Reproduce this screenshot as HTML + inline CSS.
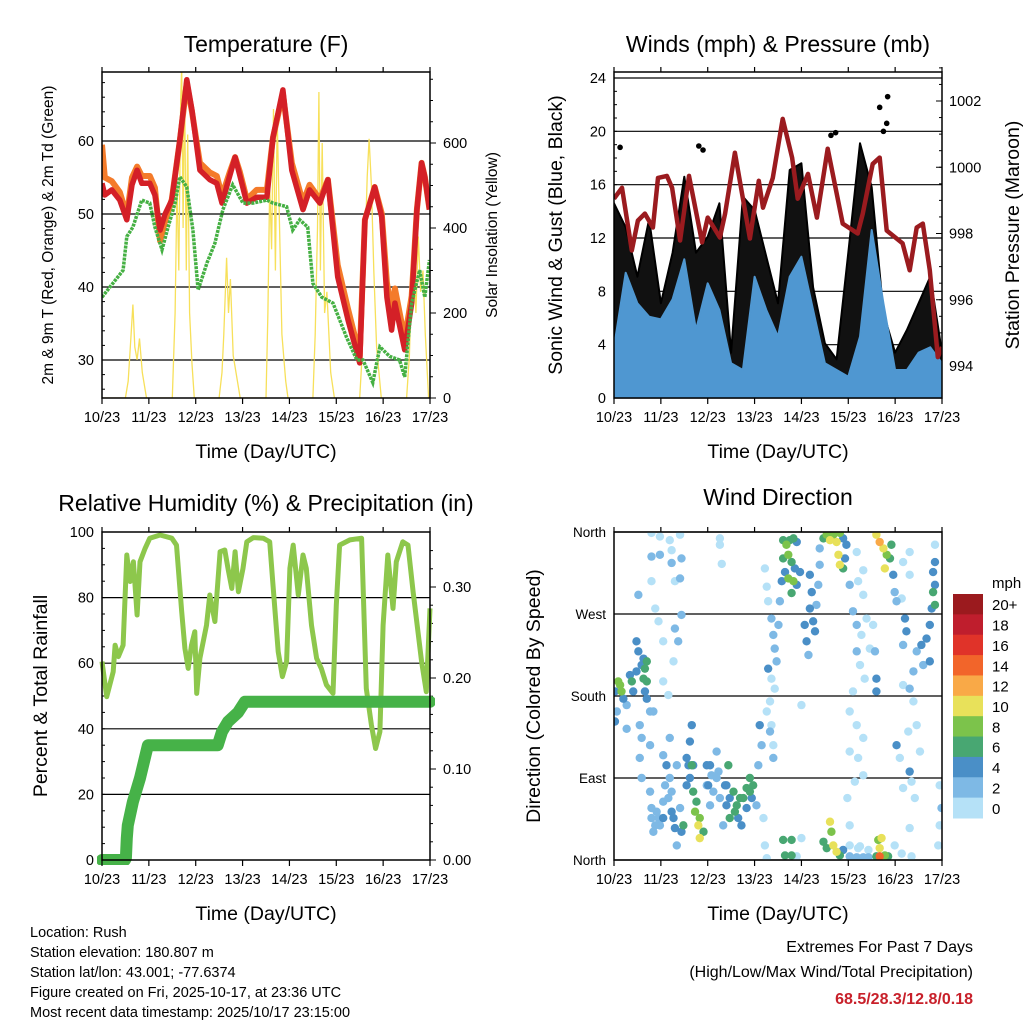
<!DOCTYPE html>
<html><head><meta charset="utf-8"><style>
html,body{margin:0;padding:0;background:#fff;}
svg{display:block;font-family:"Liberation Sans",sans-serif;}
</style></head><body>
<svg id="root" width="1024" height="1024" viewBox="0 0 1024 1024" xmlns="http://www.w3.org/2000/svg"></svg>
<script>
// ---------- Temperature panel data ----------
const tempT=[0,.06,.21,.38,.53,.64,.75,.85,1.02,1.13,1.24,1.34,1.49,1.66,1.81,1.92,2.09,2.3,2.45,2.56,2.73,2.84,2.94,3.09,3.3,3.52,3.65,3.86,4.05,4.29,4.43,4.65,4.82,5.03,5.25,5.5,5.61,5.82,5.97,6.08,6.18,6.25,6.46,6.61,6.72,6.82,6.89,6.99];
const temp2m=[54.2,52.6,53.3,51.9,49.2,54,56,54.2,54.2,52.6,47.8,49.9,51.9,60.1,68.4,64.2,56,54.7,54.2,51.5,55.3,57.8,55.3,51.5,52.3,52.3,60.5,67,56,50.6,53.3,51.5,54.7,41.4,35.5,29.6,49.2,53.7,49.6,38.6,34.1,37.8,31.4,37.8,50.6,57,55.1,50.6];
const temp9m=[59.5,55,54.5,53,49.8,55,56.5,55.2,55.2,53.6,46.3,48.9,52,60,67.9,64,57,55.7,55.2,52.5,55.8,57.8,55.8,52,53.3,53.3,60.5,66.5,57,51.6,54,52,54.7,43,37,30.6,49.2,53.7,50.1,40.6,36.6,39.8,32.9,38.8,50.6,57,55.1,50.6];
const dewT=[0,.23,.45,.53,.66,.85,1.02,1.13,1.28,1.41,1.56,1.66,1.81,1.94,2.05,2.24,2.41,2.58,2.79,3.01,3.22,3.52,3.65,3.94,4.07,4.22,4.39,4.5,4.69,4.93,5.22,5.44,5.57,5.78,5.93,6.14,6.35,6.46,6.61,6.78,6.89,6.99];
const dewV=[38.6,40.5,42.3,46.9,48.2,51.9,51.5,48.2,45.1,48.2,51.5,55.1,53.7,47.8,39.6,43.3,46,50.6,54,51.5,51.5,51.9,51.5,51,47.8,49.2,48.2,40.5,38.6,37.8,33.1,30,30,26.9,31.8,30.5,30,27.7,37.8,42.3,38.6,43.7];
const solarT=[0,.5,.56,.62,.66,.7,.75,.8,.86,.95,1.5,1.56,1.6,1.64,1.68,1.7,1.73,1.76,1.8,1.83,1.87,1.92,1.97,2.5,2.56,2.6,2.66,2.7,2.74,2.8,2.86,2.95,3.5,3.54,3.58,3.62,3.66,3.7,3.74,3.78,3.84,3.92,3.97,4.5,4.55,4.6,4.63,4.66,4.7,4.75,4.8,4.88,4.96,5.5,5.55,5.6,5.66,5.7,5.75,5.8,5.86,5.96,6.5,6.56,6.6,6.65,6.7,6.75,6.8,6.85,6.9,6.97];
const solarV=[0,0,40,150,220,120,90,140,60,0,0,200,500,300,700,780,400,750,300,620,200,80,0,0,60,150,330,200,280,100,60,0,0,200,500,350,680,300,660,450,150,40,0,0,150,400,720,300,600,200,250,60,0,0,100,300,520,610,500,300,120,0,0,100,250,320,200,380,250,300,150,0];
const tempTicks=[30,40,50,60];
const solarTicks=[0,200,400,600];
const dayLabels=["10/23","11/23","12/23","13/23","14/23","15/23","16/23","17/23"];

// ---------- Wind panel data ----------
const windT=[0,.25,.5,.75,1,1.25,1.5,1.75,2,2.25,2.5,2.75,3,3.25,3.5,3.75,4,4.25,4.5,4.75,5,5.25,5.5,5.75,6,6.25,6.5,6.75,7];
const windHi=[3.8,9.4,7.1,6.1,5.9,7.4,10.4,5.1,8.6,6.6,2.6,2.1,9.1,6.6,4.6,9.1,10.6,6.6,2.6,2.1,1.6,4.6,12.6,7.1,2.1,2.1,3.4,3.8,2.6];
const gustHi=[14.6,12.8,9.1,13.4,7.1,10.9,16.6,10.9,12.1,14.6,3.4,15.1,14.1,10.6,7.1,17.1,17.6,8.3,4.1,2.9,10.9,19.1,15.8,6.4,3.4,5.1,7.1,9.1,3.4];
const gustOutT=[.13,1.81,1.9,4.63,4.73,5.67,5.84,5.82,5.75];
const gustOutV=[18.8,18.9,18.6,19.7,19.9,21.8,22.6,20.6,20.0];
const presT=[0,.17,.38,.51,.66,.83,.94,1.13,1.24,1.41,1.6,1.88,2.0,2.26,2.37,2.58,2.9,3.09,3.18,3.39,3.6,3.8,3.92,4.14,4.33,4.56,4.88,5.2,5.31,5.52,5.67,5.82,6.16,6.31,6.46,6.59,6.74,6.91,7.0];
const presV=[999.05,999.38,997.49,998.39,998.6,998.18,999.68,999.74,999.38,997.79,999.74,997.73,998.48,997.88,998.6,1000.44,997.85,999.59,998.78,999.68,1001.46,1000.29,999.05,999.8,998.48,1000.56,998.3,998.0,998.6,1000.1,1000.29,998.09,997.7,996.89,998.18,998.3,996.89,994.27,994.57];
const windTicks=[0,4,8,12,16,20,24];
const presTicks=[994,996,998,1000,1002];

// ---------- RH / precip data ----------
const rhT=[0,.1,.24,.28,.35,.45,.53,.6,.67,.75,.81,.92,1.02,1.24,1.49,1.59,1.7,1.77,1.84,1.91,1.98,2.02,2.09,2.23,2.3,2.41,2.52,2.62,2.69,2.77,2.84,2.91,3.01,3.09,3.23,3.44,3.58,3.65,3.76,3.85,3.94,4.01,4.08,4.19,4.29,4.36,4.47,4.58,4.68,4.79,4.93,5.0,5.07,5.29,5.54,5.64,5.75,5.84,5.93,6.0,6.1,6.21,6.28,6.42,6.53,6.64,6.82,6.92,7.0];
const rhV=[60.5,49.8,57.4,65.5,62,65.5,93,84.9,90.9,74.7,90.9,95,98.1,99.1,98.1,96,75.7,64.5,58.4,65.5,69.6,50.8,61.5,71.6,80.8,72.7,94,94.5,88.9,82.8,94,81.8,88.9,97,98.3,98.1,97,83.8,63.5,55.9,60.5,88.9,96,80.8,93,88.9,71.6,61.5,58.4,53.4,50.8,77.7,96,97.6,98.1,52.3,41.2,34,39.1,71.6,93,76.7,90.9,97,96,81.8,60.5,51.3,76.7];
const rainT=[0,.49,.51,.53,.55,.66,.81,.98,2.47,2.56,2.69,2.9,3.05,7.0];
const rainV=[0,0,.002,.024,.038,.064,.09,.126,.126,.141,.152,.162,.174,.174];
const rhTicks=[0,20,40,60,80,100];
const rainTicks=[0,0.1,0.2,0.3];
const rainTickLabels=["0.00","0.10","0.20","0.30"];

// ---------- Wind direction data ----------
const windDirT=[
.02,.09,.13,.16,.06,.02,.2,.27,.34,.38,.41,.48,.52,.48,.59,.63,.66,.70,.70,.66,.63,.55,.27,.70,.77,
.59,.55,.59,.77,.80,.84,.91,.98,1.05,1.09,1.12,1.19,1.23,1.27,1.30,1.34,1.41,1.44,1.48,1.55,1.59,1.62,1.66,1.66,1.69,1.73,1.76,1.80,1.83,1.83,1.91,1.98,2.01,2.05,2.08,2.12,2.19,2.23,2.26,2.33,2.37,2.40,2.44,2.47,2.55,2.62,2.65,2.72,2.76,2.83,2.90,2.94,2.97,3.04,3.08,3.11,3.15,3.19,3.22,3.26,3.33,3.40,.84,1.05,1.19,1.34,.77,
.80,.88,.95,1.05,1.16,1.23,1.55,1.62,1.69,1.98,2.05,2.19,2.40,2.47,2.58,2.69,2.83,2.90,
.80,.98,1.19,1.23,1.41,.80,.98,1.23,.80,1.44,1.30,1.41,.52,.88,.95,1.44,1.30,1.05,1.37,1.27,1.05,1.16,2.26,2.30,2.26,
3.61,3.68,3.75,3.83,3.90,3.61,3.72,3.79,3.86,3.65,3.58,3.72,3.83,3.90,3.79,3.97,3.22,3.26,3.29,3.36,3.40,3.43,3.47,3.51,3.29,3.36,3.43,3.54,3.33,3.26,3.36,3.40,4.00,4.18,4.22,4.18,4.25,4.29,4.07,4.11,4.15,4.32,4.36,4.39,4.39,4.47,4.54,4.61,4.68,4.75,4.82,4.89,4.79,4.82,4.89,4.93,4.96,5.03,5.18,5.21,5.32,5.32,5.10,5.18,5.28,5.39,5.46,5.53,5.18,5.25,5.35,5.57,5.60,5.60,5.10,5.03,5.18,5.32,5.21,5.03,5.14,5.32,4.98,5.03,5.21,5.43,
5.60,5.67,5.75,5.82,5.78,5.89,5.96,5.92,5.99,6.03,6.14,6.17,6.31,6.31,6.21,6.24,6.17,6.46,6.56,6.67,6.74,6.78,6.81,6.85,6.81,6.85,6.85,6.74,6.60,6.39,6.31,6.39,6.17,6.46,6.28,6.03,6.10,6.31,6.17,6.35,6.42,6.53,6.31,6.95,6.99,6.95,6.92,6.85,
3.61,3.79,3.79,3.65,4.00,3.90,4.47,4.54,4.61,4.64,4.68,4.75,4.82,4.89,5.03,5.18,5.32,5.43,5.03,5.25,5.64,5.71,5.67,5.67,5.78,5.85,5.60,5.99,6.35,6.14];
const windDirDeg=[
185,196,192,185,163,152,177,170,203,196,185,207,229,240,214,199,210,218,196,185,221,148,144,177,163,
134,112,90,75,46,31,53,38,64,82,104,90,75,46,35,16,57,31,38,82,104,130,148,104,75,53,64,38,46,24,31,104,82,60,93,75,119,97,68,38,82,60,104,46,75,60,46,38,68,79,90,68,82,60,104,148,126,46,16,2,141,112,163,115,134,104,126,
57,38,46,46,68,53,112,90,104,82,104,90,82,68,53,68,57,75,
359,355,351,340,357,333,335,326,306,331,306,309,291,276,262,269,254,240,240,218,196,181,353,325,346,
351,346,351,353,349,331,335,327,320,316,306,309,306,302,293,316,320,300,284,265,247,232,218,258,210,199,188,284,174,163,148,126,170,313,294,276,262,251,258,240,225,280,302,324,342,353,357,351,357,349,359,353,335,324,320,331,346,302,338,306,318,291,273,258,247,265,232,258,229,214,199,229,199,185,185,163,148,134,112,119,86,93,68,38,13,11,
357,349,342,335,320,331,313,346,294,284,287,327,313,338,265,251,236,229,236,243,258,276,294,280,316,327,346,218,214,207,188,174,192,148,141,126,112,97,79,86,68,119,35,82,57,38,16,302,
22,22,5,5,24,4,20,13,42,31,16,9,5,11,4,3,3,3,16,15,22,24,13,4,5,4,4,16,4,7];
const windDirSpd=[
4,8,8,8,3,4,4,3,4,6,4,4,4,4,4,6,6,6,6,4,4,3,2,4,2,
2,2,2,2,2,3,2,2,3,2,4,2,2,4,4,2,3,4,6,4,4,4,4,6,6,8,6,10,8,10,6,4,4,2,3,2,3,3,3,2,4,4,6,6,6,6,4,4,6,6,6,4,6,2,2,4,2,1,1,1,2,2,2,2,2,2,2,
2,2,3,4,3,4,4,4,4,3,4,3,4,4,6,6,4,6,
1,1,1,1,1,2,2,3,1,3,1,3,3,1,1,2,2,1,2,1,1,1,1,1,1,
6,8,6,6,4,6,8,6,4,4,4,8,8,4,6,4,1,1,1,2,2,2,2,2,4,1,1,2,1,1,1,1,1,4,4,4,4,4,4,4,3,3,3,2,2,6,8,10,8,10,8,4,10,10,6,4,4,2,1,1,1,1,2,2,1,1,1,1,2,1,1,3,4,4,1,1,1,1,1,1,1,1,1,1,1,1,
10,12,10,8,10,6,4,6,3,2,1,1,1,1,4,4,3,2,4,4,4,4,6,6,4,4,1,4,3,2,2,1,1,1,1,4,1,4,1,1,1,1,1,1,3,1,1,4,
6,6,6,6,1,1,6,6,10,8,10,10,6,4,2,2,2,2,1,1,8,10,10,14,8,6,6,1,1,1];
const dirTicks=[0,90,180,270,360];
const dirLabels=["North","East","South","West","North"];
const cbLabels=["20+","18","16","14","12","10","8","6","4","2","0"];
const cbColors=["#9b1a1e","#bf1e2d","#e03329","#f2652a","#f9a947","#e8e15a","#7cc34b","#48a772","#4a8fc7","#7eb9e5","#b5e1f7"];

// ---------- drawing ----------
const NS="http://www.w3.org/2000/svg";
const root=document.getElementById('root');
function mk(tag,attrs,parent){const e=document.createElementNS(NS,tag);for(const k in attrs)e.setAttribute(k,attrs[k]);(parent||root).appendChild(e);return e;}
function txt(s,x,y,size,anchor,parent,extra){const e=mk('text',Object.assign({x:x,y:y,'font-size':size,'text-anchor':anchor||'middle',fill:'#000'},extra||{}),parent);e.textContent=s;return e;}
function lin(d0,d1,p0,p1){return v=>p0+(v-d0)/(d1-d0)*(p1-p0);}
function pts(xs,ys,sx,sy){return xs.map((t,i)=>sx(t).toFixed(1)+','+sy(ys[i]).toFixed(1)).join(' ');}

function frame(g,L,T,R,B,sx){
  mk('rect',{x:L,y:T,width:R-L,height:B-T,fill:'none',stroke:'#000','stroke-width':1.5},g);
  for(let d=0;d<=7;d++){const x=sx(d);
    mk('line',{x1:x,y1:B,x2:x,y2:B+6,stroke:'#000','stroke-width':1.2},g);
    mk('line',{x1:x,y1:T,x2:x,y2:T-5,stroke:'#000','stroke-width':1.2},g);
    const tl=txt(dayLabels[d],x,B+24,14.5,'middle',g);
    
    
  }
  const xt=txt('Time (Day/UTC)',(L+R)/2,B+60,19.5,'middle',g);
  
  
}
function grid(g,L,R,y){mk('line',{x1:L,y1:y,x2:R,y2:y,stroke:'#000','stroke-width':1.2},g);}

// Panel 1: temperature
(function(){
  const L=102,R=430,T=72,B=398;
  const g=mk('g',{});
  
  
  const sx=lin(0,7,L,R), sy=lin(30,60,360,141), ss=lin(0,600,398,143);
  tempTicks.forEach(v=>{grid(g,L,R,sy(v));txt(String(v),L-8,sy(v)+5,14.5,'end',g);});
  for(let v=26;v<=68;v+=2){mk('line',{x1:L,y1:sy(v),x2:L+(v%10?3:6),y2:sy(v),stroke:'#000'},g);}
  solarTicks.forEach(v=>{txt(String(v),R+13,ss(v)+5,14.5,'start',g);mk('line',{x1:R,y1:ss(v),x2:R+6,y2:ss(v),stroke:'#000'},g);});
  for(let v=50;v<=750;v+=50){mk('line',{x1:R,y1:ss(v),x2:R+3,y2:ss(v),stroke:'#000'},g);}
  const cp=mk('clipPath',{id:'c1'},g);mk('rect',{x:L,y:T,width:R-L,height:B-T},cp);
  const pg=mk('g',{'clip-path':'url(#c1)'},g);
  const s=mk('polyline',{points:pts(solarT,solarV,sx,ss),fill:'none',stroke:'#f7e05a','stroke-width':1.3},pg);
  
  const o=mk('polyline',{points:pts(tempT,temp9m,sx,sy),fill:'none',stroke:'#f47b2a','stroke-width':6,'stroke-linejoin':'round'},pg);
  
  const r=mk('polyline',{points:pts(tempT,temp2m,sx,sy),fill:'none',stroke:'#d42027','stroke-width':5.5,'stroke-linejoin':'round'},pg);
  
  const d=mk('polyline',{points:pts(dewT,dewV,sx,sy),fill:'none',stroke:'#45b043','stroke-width':3.5,'stroke-dasharray':'3 1'},pg);
  
  frame(g,L,T,R,B,sx);
  txt('Temperature (F)',266,52,23,'middle',g);
  const yl=txt('2m & 9m T (Red, Orange) & 2m Td (Green)',0,0,15.5,'middle',g,{transform:'translate(53,235) rotate(-90)'});
  
  const yr=txt('Solar Insolation (Yellow)',0,0,15.5,'middle',g,{transform:'translate(497,235) rotate(-90)'});
  
})();

// Panel 2: winds
(function(){
  const L=614,R=942,T=72,B=398;
  const g=mk('g',{});
  
  
  const sx=lin(0,7,L,R), sy=lin(0,24,398,78), sp=lin(994,1002,366,101);
  windTicks.forEach(v=>{grid(g,L,R,sy(v));txt(String(v),L-8,sy(v)+5,14.5,'end',g);});
  for(let v=1;v<24;v++){mk('line',{x1:L,y1:sy(v),x2:L+3,y2:sy(v),stroke:'#000'},g);}
  presTicks.forEach(v=>{txt(String(v),R+7,sp(v)+5,14.5,'start',g);mk('line',{x1:R,y1:sp(v),x2:R-6,y2:sp(v),stroke:'#000'},g);});
  for(let v=993.5;v<=1003;v+=0.5){mk('line',{x1:R,y1:sp(v),x2:R-3,y2:sp(v),stroke:'#000'},g);}
  const cp=mk('clipPath',{id:'c2'},g);mk('rect',{x:L,y:T,width:R-L,height:B-T},cp);
  const pg=mk('g',{'clip-path':'url(#c2)'},g);
  const gp=pts(windT,gustHi,sx,sy)+' '+sx(7)+','+sy(0)+' '+sx(0)+','+sy(0);
  const ga=mk('polygon',{points:gp,fill:'#111',stroke:'#000','stroke-width':2,'stroke-linejoin':'round'},pg);
  
  gustOutT.forEach((t,i)=>{const c=mk('circle',{cx:sx(t),cy:sy(gustOutV[i]),r:2.8,fill:'#000'},pg);
    });
  const wp=pts(windT,windHi,sx,sy)+' '+sx(7)+','+sy(0)+' '+sx(0)+','+sy(0);
  const wa=mk('polygon',{points:wp,fill:'#4f97d1',stroke:'#4f97d1','stroke-width':2,'stroke-linejoin':'round'},pg);
  
  const pl=mk('polyline',{points:pts(presT,presV,sx,sp),fill:'none',stroke:'#9b1b1f','stroke-width':4.5,'stroke-linejoin':'round'},pg);
  
  frame(g,L,T,R,B,sx);
  txt('Winds (mph) & Pressure (mb)',778,52,23,'middle',g);
  txt('Sonic Wind & Gust (Blue, Black)',0,0,19.5,'middle',g,{transform:'translate(562,235) rotate(-90)'});
  txt('Station Pressure (Maroon)',0,0,19.5,'middle',g,{transform:'translate(1019,235) rotate(-90)'});
})();

// Panel 3: RH & precip
(function(){
  const L=102,R=430,T=532,B=860;
  const g=mk('g',{});
  
  
  const sx=lin(0,7,L,R), sy=lin(0,100,860,532), sr=lin(0,0.3,860,587);
  rhTicks.forEach(v=>{if(v>0&&v<100)grid(g,L,R,sy(v));txt(String(v),L-8,sy(v)+5,14.5,'end',g);});
  for(let v=5;v<100;v+=5){mk('line',{x1:L,y1:sy(v),x2:L+3,y2:sy(v),stroke:'#000'},g);}
  rainTicks.forEach((v,i)=>{txt(rainTickLabels[i],R+13,sr(v)+5,14.5,'start',g);mk('line',{x1:R,y1:sr(v),x2:R+6,y2:sr(v),stroke:'#000'},g);});
  for(let v=0.02;v<0.36;v+=0.02){mk('line',{x1:R,y1:sr(v),x2:R+3,y2:sr(v),stroke:'#000'},g);}
  const cp=mk('clipPath',{id:'c3'},g);mk('rect',{x:L-5,y:T,width:R-L+10,height:B-T+5},cp);
  const pg=mk('g',{'clip-path':'url(#c3)'},g);
  const rh=mk('polyline',{points:pts(rhT,rhV,sx,sy),fill:'none',stroke:'#8dc74c','stroke-width':5,'stroke-linejoin':'round'},pg);
  
  const rn=mk('polyline',{points:pts(rainT,rainV,sx,sr),fill:'none',stroke:'#46b248','stroke-width':12,'stroke-linejoin':'round','stroke-linecap':'round'},pg);
  
  frame(g,L,T,R,B,sx);
  txt('Relative Humidity (%) & Precipitation (in)',266,511,23,'middle',g);
  txt('Percent & Total Rainfall',0,0,19.5,'middle',g,{transform:'translate(47,696) rotate(-90)'});
})();

// Panel 4: wind direction
(function(){
  const L=614,R=942,T=532,B=860;
  const g=mk('g',{});
  
  
  const sx=lin(0,7,L,R), sy=lin(0,360,860,532);
  dirTicks.forEach((v,i)=>{grid(g,L,R,sy(v));txt(dirLabels[i],L-8,sy(v)+5,13.5,'end',g);});
  const cp=mk('clipPath',{id:'c4'},g);mk('rect',{x:L,y:T,width:R-L,height:B-T},cp);
  const pg=mk('g',{'clip-path':'url(#c4)'},g);
  const idx=windDirT.map((_,i)=>i).sort((a,b)=>windDirSpd[a]-windDirSpd[b]);
  idx.forEach(i=>{const ci=Math.max(0,10-Math.min(10,Math.floor(windDirSpd[i]/2)));
    const c=mk('circle',{cx:sx(windDirT[i]),cy:sy(windDirDeg[i]),r:4.2,fill:cbColors[ci]},pg);
    
  });
  frame(g,L,T,R,B,sx);
  txt('Wind Direction',778,505,23,'middle',g);
  txt('Direction (Colored By Speed)',0,0,19.5,'middle',g,{transform:'translate(540,696) rotate(-90)'});
  const cb=mk('g',{},g);
  
  
  const h=(818-594)/11;
  cbColors.forEach((c,i)=>{mk('rect',{x:953,y:594+i*h,width:30,height:h+0.5,fill:c},cb);
    txt(cbLabels[i],992,594+i*h+h/2+6,15,'start',cb);});
  txt('mph',992,588,15,'start',cb);
})();

// Footer
const f=mk('g',{});


["Location: Rush","Station elevation: 180.807 m","Station lat/lon: 43.001; -77.6374","Figure created on Fri, 2025-10-17, at 23:36 UTC","Most recent data timestamp: 2025/10/17 23:15:00"].forEach((s,i)=>txt(s,30,937+i*20,14.5,'start',f));
const ex=mk('g',{});


txt('Extremes For Past 7 Days',973,952,16,'end',ex);
txt('(High/Low/Max Wind/Total Precipitation)',973,977,16,'end',ex);
txt('68.5/28.3/12.8/0.18',973,1004,16,'end',ex,{fill:'#c8202a','font-weight':'bold'});
</script>
</body></html>
